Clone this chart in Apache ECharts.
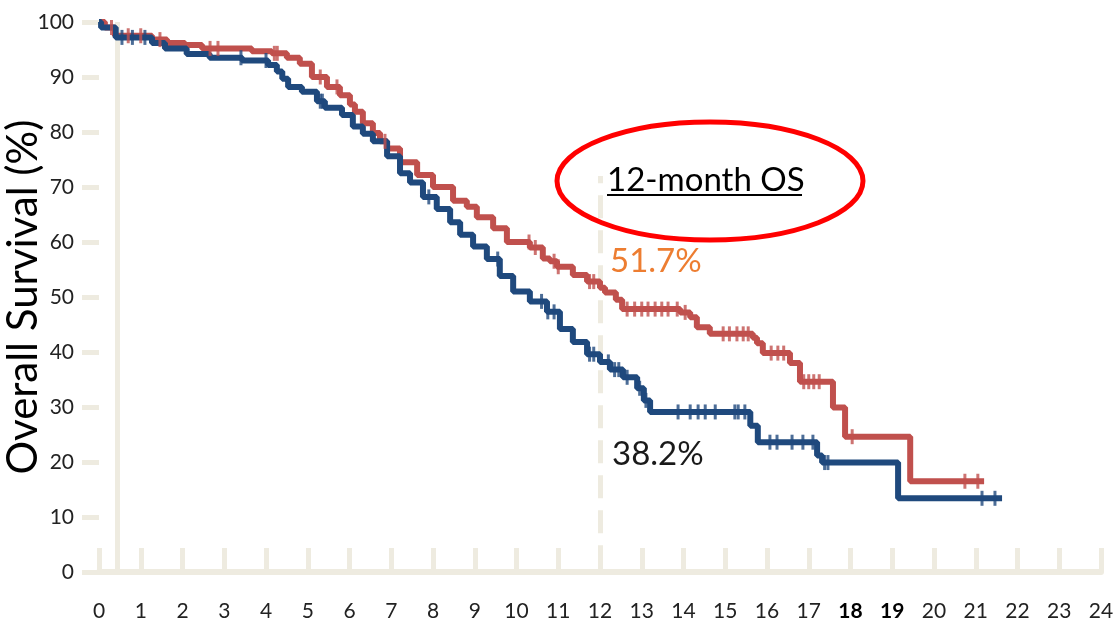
<!DOCTYPE html>
<html>
<head>
<meta charset="utf-8">
<title>Overall Survival</title>
<script src="https://cdn.jsdelivr.net/npm/echarts@6/dist/echarts.min.js"></script>
<style>
  html, body { margin: 0; padding: 0; background: #ffffff; }
  #chart { width: 1114px; height: 635px; }
</style>
</head>
<body>
<div id="chart"></div>
<script>
// Kaplan–Meier step data: event times (months) and survival (%) from that time on
const redTimes = [0, 0.14, 0.38, 1.27, 1.63, 2.06, 2.47, 3.66, 4.14, 4.5, 4.81, 5.1, 5.46, 5.77, 6.01, 6.13, 6.32, 6.56, 6.73, 6.9, 7.21, 7.62, 8.0, 8.48, 8.81, 9.05, 9.44, 9.77, 10.32, 10.63, 10.8, 10.97, 11.35, 11.69, 12.0, 12.12, 12.38, 12.53, 13.92, 14.16, 14.32, 14.63, 15.66, 15.76, 15.9, 16.55, 16.79, 17.58, 17.87, 19.43, 21.2];
const redSurv  = [100, 99, 97.5, 96.8, 96.2, 95.8, 95.2, 94.7, 94.3, 93.5, 92.4, 90, 88.2, 86.7, 85, 83.7, 81.6, 79.8, 78.3, 77, 74.5, 72.2, 70, 67.5, 66.4, 64.5, 62.5, 60, 59, 57, 56.5, 55.5, 54, 52.8, 51.7, 50.8, 49.5, 47.8, 47.2, 46.3, 44.5, 43.3, 42.6, 41.6, 39.8, 38, 34.6, 29.9, 24.6, 16.5, 16.5];
const redCensored = [0.3, 0.7, 1.0, 1.46, 2.66, 2.85, 4.2, 4.27, 5.3, 5.7, 6.85, 10.3, 10.45, 10.9, 11.0, 11.75, 11.85, 12.65, 12.83, 13.0, 13.15, 13.32, 13.48, 13.63, 13.85, 14.04, 14.95, 15.1, 15.28, 15.43, 15.55, 16.1, 16.26, 16.4, 16.88, 17.0, 17.12, 17.25, 18.04, 20.74, 21.05];

const blueTimes = [0, 0.05, 0.4, 1.27, 1.58, 2.1, 2.65, 3.43, 4.05, 4.26, 4.39, 4.53, 4.86, 5.22, 5.41, 5.82, 6.08, 6.32, 6.56, 6.9, 7.21, 7.45, 7.76, 8.09, 8.41, 8.65, 8.96, 9.29, 9.6, 9.92, 10.32, 10.73, 11.04, 11.35, 11.69, 12.0, 12.24, 12.55, 12.89, 13.05, 13.2, 15.6, 15.78, 17.2, 17.32, 19.14, 21.63];
const blueSurv  = [100, 99, 97.2, 96.2, 95.2, 94.2, 93.5, 93, 92.2, 91, 89.7, 88.2, 87.3, 85.6, 84.4, 83.1, 81, 79.7, 78.3, 75.6, 72.5, 70.8, 68.2, 66, 63.6, 61.3, 59.2, 56.9, 53.8, 51, 49.2, 47.3, 44.2, 41.8, 39.6, 38.2, 36.8, 35.4, 33.4, 31.2, 29.1, 26.6, 23.6, 21.2, 19.9, 13.4, 13.4];
const blueCensored = [0.55, 0.8, 1.1, 3.4, 4.0, 5.3, 5.35, 7.9, 9.55, 10.6, 10.75, 10.9, 11.75, 11.85, 12.2, 12.35, 12.45, 12.65, 12.95, 13.1, 13.87, 14.16, 14.35, 14.52, 14.76, 15.23, 15.31, 15.47, 16.07, 16.24, 16.6, 16.86, 17.1, 17.38, 17.46, 21.15, 21.46];

const monthTicks = [0, 1, 2, 3, 4, 5, 6, 7, 8, 9, 10, 11, 12, 13, 14, 15, 16, 17, 18, 19, 20, 21, 22, 23, 24];
const boldMonths = [18, 19];
const landmarkMonth = 12;
const earlyMarkMonth = 0.43;
const redLandmarkText = '51.7%';
const blueLandmarkText = '38.2%';
const calloutText = '12-month OS';

const RED = '#C0504D';
const BLUE = '#1F497D';
const BEIGE = '#EEEBE0';
const FONT = 'Lato';

function survivalAt(times, surv, t) {
  let v = surv[0];
  for (let i = 0; i < times.length; i++) {
    if (times[i] <= t) v = surv[i]; else break;
  }
  return v;
}
const pairs = (a, b) => a.map((t, i) => [t, b[i]]);
const censorPoints = (cens, times, surv) => cens.map(t => [t, survivalAt(times, surv, t)]);

const chart = echarts.init(document.getElementById('chart'), null, { renderer: 'canvas' });

const option = {
  animation: false,
  backgroundColor: '#ffffff',
  grid: { left: 99, right: 13, top: 22, bottom: 63, containLabel: false, outerBoundsMode: 'none' },
  xAxis: {
    type: 'value', min: monthTicks[0], max: monthTicks[monthTicks.length - 1], interval: 1,
    offset: 23,
    axisLine: { show: true, lineStyle: { color: BEIGE, width: 6 } },
    axisTick: { show: true, inside: true, length: 24, lineStyle: { color: BEIGE, width: 5 } },
    splitLine: { show: false },
    axisLabel: {
      margin: 6, fontFamily: FONT, fontSize: 21, color: '#222222',
      formatter: v => boldMonths.includes(v) ? '{b|' + v + '}' : String(v),
      rich: { b: { fontFamily: FONT, fontSize: 21, fontWeight: 'bold', color: '#000000' } }
    }
  },
  yAxis: {
    type: 'value', min: 0, max: 100, interval: 10,
    name: 'Overall Survival (%)', nameLocation: 'middle', nameGap: 55, nameRotate: 90,
    nameMoveOverlap: false,
    nameTextStyle: { fontFamily: FONT, fontSize: 42, color: '#000000' },
    axisLine: { show: false },
    axisTick: { show: true, length: 17, lineStyle: { color: BEIGE, width: 5 } },
    splitLine: { show: false },
    axisLabel: { margin: 25, fontFamily: FONT, fontSize: 21, color: '#222222' }
  },
  series: [
    {
      type: 'line', data: [], z: 1, silent: true,
      markLine: {
        z: 1, symbol: 'none', silent: true, animation: false,
        label: { show: false },
        lineStyle: { color: BEIGE, width: 5, type: 'solid' },
        data: [[{ coord: [earlyMarkMonth, 0] }, { coord: [earlyMarkMonth, 100] }]]
      }
    },
    {
      type: 'line', data: [], z: 1, silent: true,
      markLine: {
        z: 1, symbol: 'none', silent: true, animation: false,
        label: { show: false },
        lineStyle: { color: BEIGE, width: 5, type: [23, 12] },
        data: [[{ coord: [landmarkMonth, 0.7] }, { coord: [landmarkMonth, 72] }]]
      }
    },
    {
      name: 'red arm', type: 'line', step: 'end', z: 3, showSymbol: false, symbol: 'none',
      data: pairs(redTimes, redSurv),
      lineStyle: { color: RED, width: 6 }
    },
    {
      name: 'blue arm', type: 'line', step: 'end', z: 3, showSymbol: false, symbol: 'none',
      data: pairs(blueTimes, blueSurv),
      lineStyle: { color: BLUE, width: 6 }
    },
    {
      type: 'scatter', z: 4, symbol: 'rect', symbolSize: [3, 15],
      itemStyle: { color: RED },
      data: censorPoints(redCensored, redTimes, redSurv)
    },
    {
      type: 'scatter', z: 4, symbol: 'rect', symbolSize: [3, 15],
      itemStyle: { color: BLUE },
      data: censorPoints(blueCensored, blueTimes, blueSurv)
    }
  ],
  graphic: [
    {
      type: 'ellipse', z: 10, silent: true,
      shape: { cx: 710, cy: 181, rx: 153, ry: 59 },
      style: { fill: 'none', stroke: '#FF0000', lineWidth: 5 }
    },
    {
      type: 'text', z: 10, x: 607, y: 180, silent: true,
      style: { text: calloutText, font: '33px Lato', fill: '#000000', align: 'left', verticalAlign: 'middle' }
    },
    {
      type: 'line', z: 10, silent: true,
      shape: { x1: 607, y1: 195, x2: 802, y2: 195 },
      style: { stroke: '#000000', lineWidth: 2 }
    },
    {
      type: 'text', z: 10, x: 610, y: 261, silent: true,
      style: { text: redLandmarkText, font: '33px Lato', fill: '#ED7D31', align: 'left', verticalAlign: 'middle' }
    },
    {
      type: 'text', z: 10, x: 612, y: 454, silent: true,
      style: { text: blueLandmarkText, font: '33px Lato', fill: '#1A1A1A', align: 'left', verticalAlign: 'middle' }
    }
  ]
};

chart.setOption(option);
</script>
</body>
</html>
